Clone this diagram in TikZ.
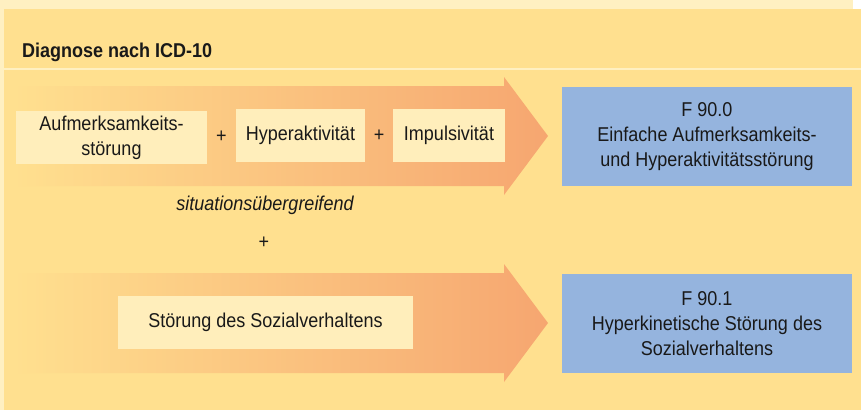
\documentclass[tikz,border=0pt]{standalone}
\usepackage{fontspec}
\setmainfont{Liberation Sans}[FakeStretch=0.9]
\usetikzlibrary{positioning}
\usetikzlibrary{calc}
\definecolor{cream}{RGB}{255,240,193}
\definecolor{panel}{RGB}{255,224,143}
\definecolor{boxfill}{RGB}{255,238,187}
\definecolor{codeblue}{RGB}{149,180,222}
\definecolor{arroworange}{RGB}{246,166,112}

\begin{document}
\begin{tikzpicture}[x=1pt, y=-1pt,
    every node/.style={font=\fontsize{20}{25}\selectfont, text=black!90, inner sep=0pt},
    symptom/.style={fill=boxfill, align=center, minimum height=53pt},
    icd/.style={fill=codeblue, align=center, minimum width=290pt, minimum height=99pt}]
    \useasboundingbox (0,0) rectangle (861,410);

    % background and panel
    \fill[white] (0,0) rectangle (861,410);
    \fill[cream] (0,0) rectangle (853,410);
    \fill[panel] (4,9) rectangle (861,410);
    \fill[cream] (4,68) rectangle (861,70);

    \node[font=\fontsize{20}{25}\selectfont\bfseries, anchor=west] (title) at (22,52) {Diagnose nach ICD-10};

    % the two big arrows
    \foreach \m in {136,323} {
        \shade[left color=panel, right color=arroworange]
            (13,\m-50) -- (504,\m-50) -- (504,\m-59) -- (548,\m) -- (504,\m+59) -- (504,\m+50) -- (13,\m+50) -- cycle;
    }

    \node[symptom, minimum width=191pt] (attention) at (111.5,137.5) {Aufmerksamkeits-\\störung};
    \node[symptom, minimum width=129pt] (hyper) at (300.5,135.5) {Hyperaktivität};
    \node[symptom, minimum width=112pt] (impulse) at (449,135.5) {Impulsivität};
    \node (plusA) at ($(attention.east)!0.5!(hyper.west)$) {+};
    \node (plusB) at ($(hyper.east)!0.5!(impulse.west)$) {+};

    \node[font=\fontsize{20}{25}\selectfont\itshape] (across) at (265,205) {situationsübergreifend};
    \node (plusC) at (264,243) {+};

    \node[symptom, minimum width=295pt] (social) at (265.5,322.5) {Störung des Sozialverhaltens};

    \node[icd] (f900) at (707,136.5) {F 90.0\\Einfache Aufmerksamkeits-\\und Hyperaktivitätsstörung};
    \node[icd] (f901) at (707,323.5) {F 90.1\\Hyperkinetische Störung des\\Sozialverhaltens};
\end{tikzpicture}
\end{document}
